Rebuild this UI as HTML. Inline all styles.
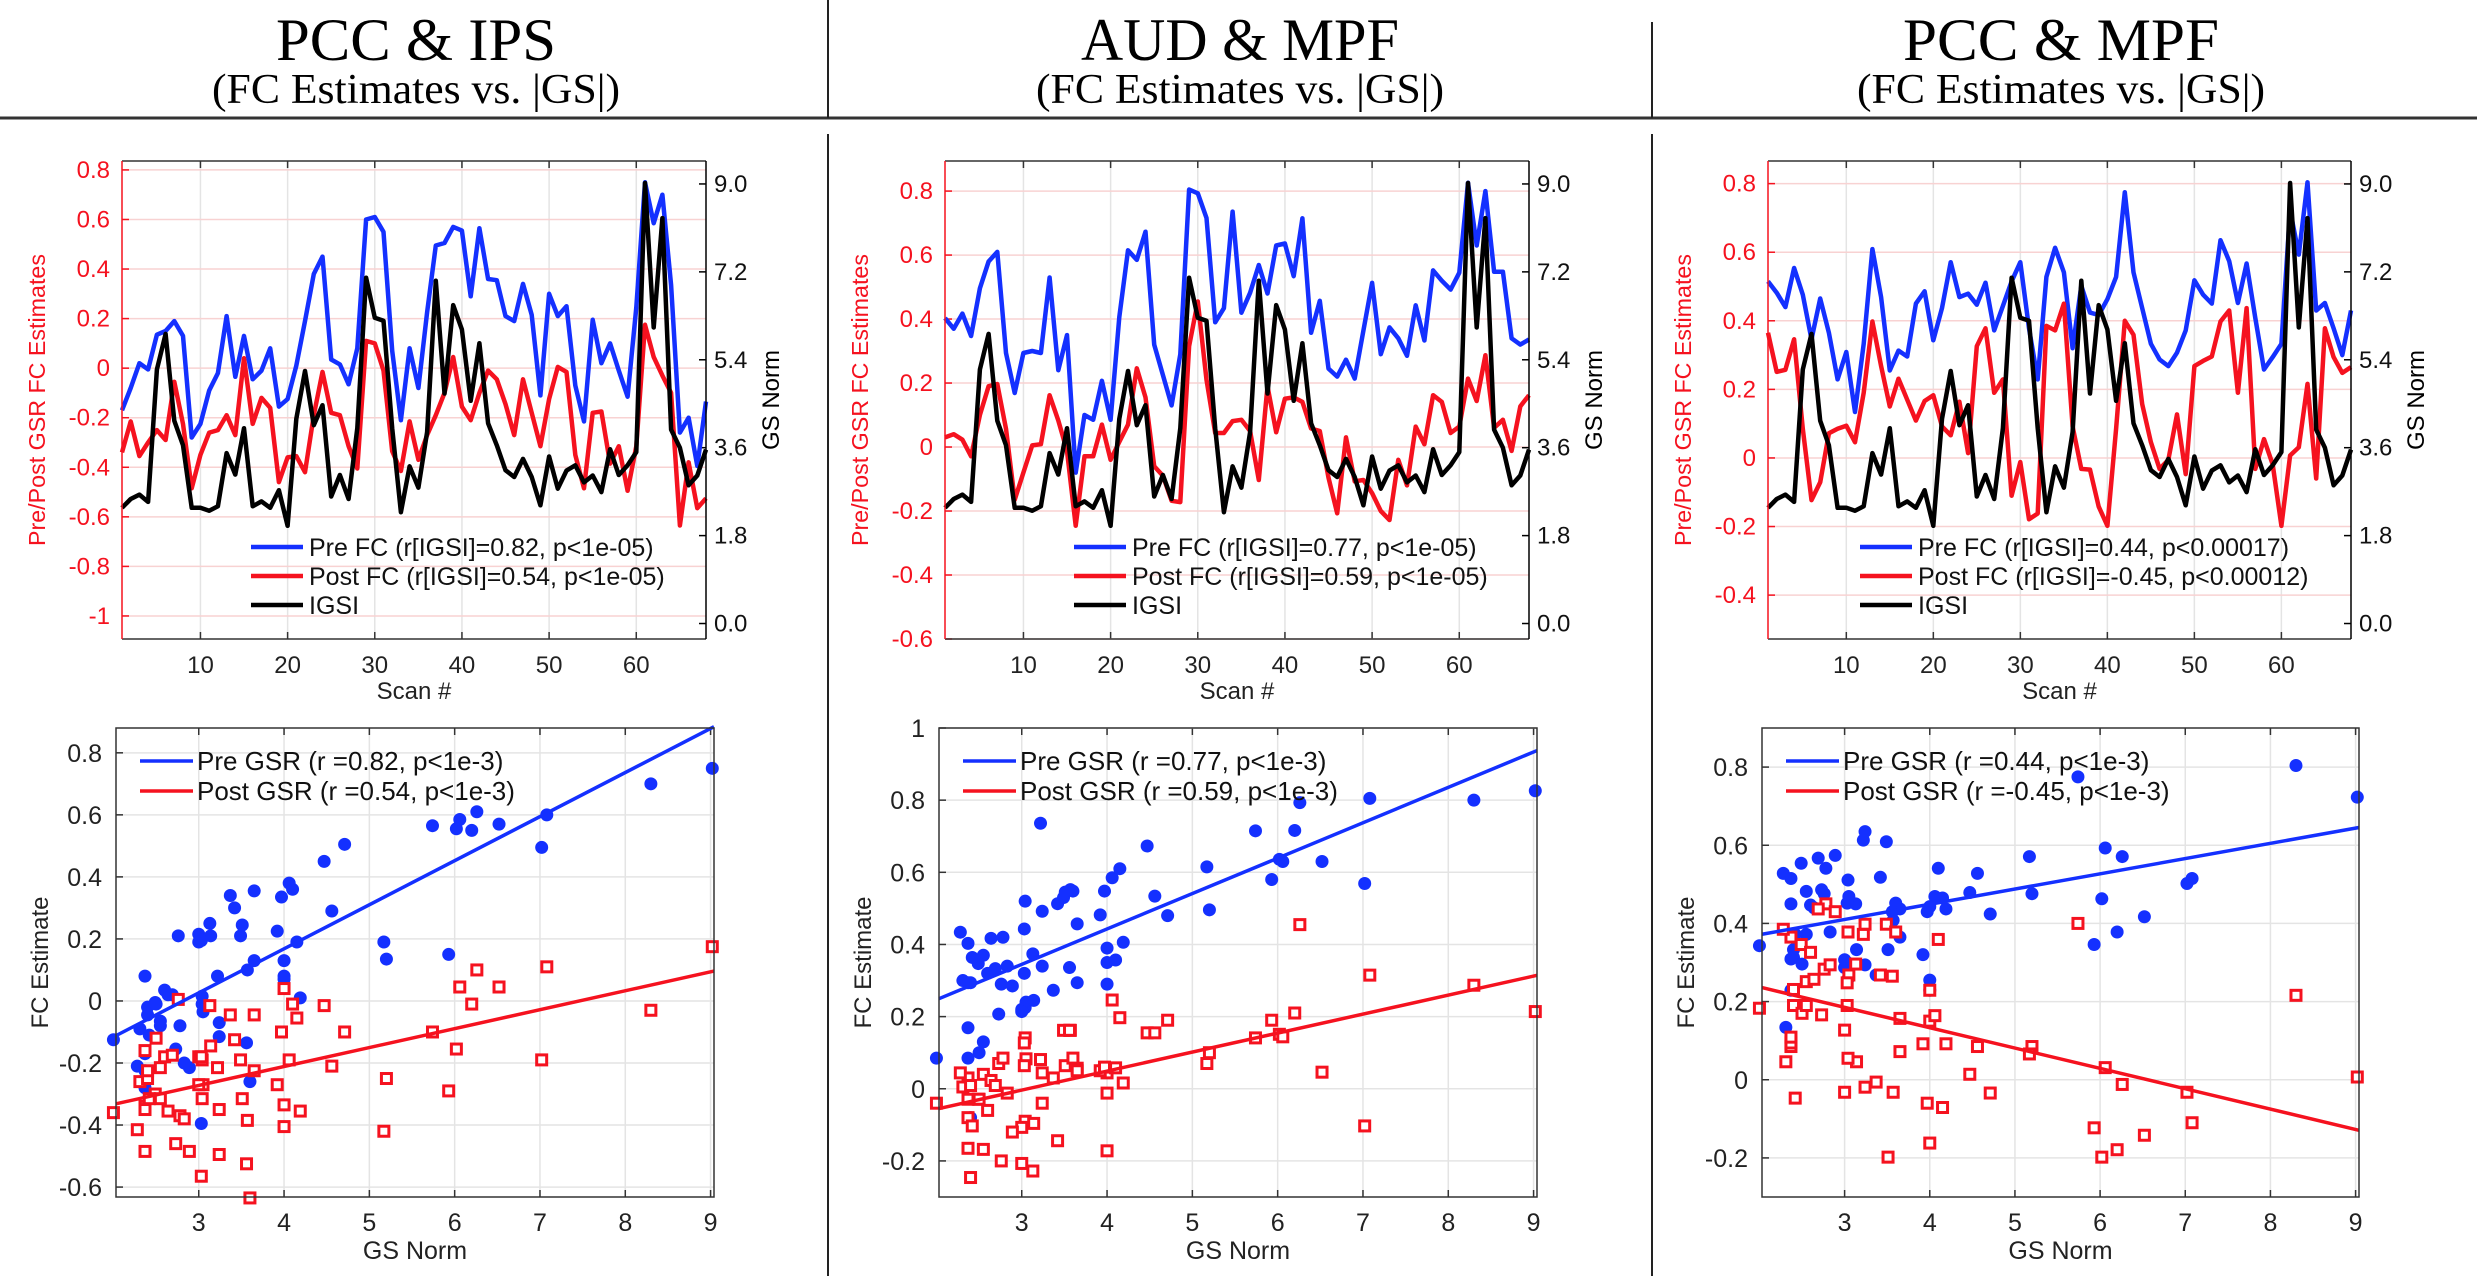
<!DOCTYPE html>
<html><head><meta charset="utf-8">
<style>
html,body{margin:0;padding:0;background:#fff;}
svg{display:block;font-family:"Liberation Sans",Arial,sans-serif;}
.ttl{font-family:"Liberation Serif","DejaVu Serif",serif;}
</style></head>
<body>
<svg id="fig" width="2477" height="1280" viewBox="0 0 2477 1280" xmlns="http://www.w3.org/2000/svg">
<rect x="0" y="0" width="2477" height="1280" fill="#fff"/>
<line x1="0" y1="118" x2="2477" y2="118" stroke="#333" stroke-width="3"/>
<line x1="828" y1="0" x2="828" y2="118" stroke="#222" stroke-width="2"/>
<line x1="828" y1="134" x2="828" y2="1276" stroke="#222" stroke-width="2"/>
<line x1="1652" y1="22" x2="1652" y2="118" stroke="#222" stroke-width="2"/>
<line x1="1652" y1="134" x2="1652" y2="1276" stroke="#222" stroke-width="2"/>
<g class="ttl">
<text x="416" y="60" font-size="60" text-anchor="middle" textLength="280" lengthAdjust="spacingAndGlyphs">PCC &amp; IPS</text>
<text x="416" y="103" font-size="42" text-anchor="middle" textLength="408" lengthAdjust="spacingAndGlyphs">(FC Estimates vs. |GS|)</text>
</g>
<g class="ttl">
<text x="1240" y="60" font-size="60" text-anchor="middle" textLength="318" lengthAdjust="spacingAndGlyphs">AUD &amp; MPF</text>
<text x="1240" y="103" font-size="42" text-anchor="middle" textLength="408" lengthAdjust="spacingAndGlyphs">(FC Estimates vs. |GS|)</text>
</g>
<g class="ttl">
<text x="2061" y="60" font-size="60" text-anchor="middle" textLength="316" lengthAdjust="spacingAndGlyphs">PCC &amp; MPF</text>
<text x="2061" y="103" font-size="42" text-anchor="middle" textLength="408" lengthAdjust="spacingAndGlyphs">(FC Estimates vs. |GS|)</text>
</g>
</svg>
<script>
const gsNorm=[2.37,2.55,2.64,2.49,5.2,5.93,4.15,3.65,2.37,2.37,2.31,2.4,3.49,3.05,4.0,2.4,2.5,2.37,2.73,2.0,4.19,5.17,4.06,4.47,2.6,3.04,2.55,4.0,7.08,6.26,6.2,4.0,2.28,3.22,2.78,3.92,7.02,4.71,6.52,6.02,4.56,5.74,4.1,3.65,3.14,3.0,3.37,3.0,2.42,3.42,2.76,3.13,3.24,2.89,3.03,2.69,3.57,3.04,3.24,3.51,9.02,6.06,8.3,3.97,3.6,2.83,3.03,3.56];
const pre1=[-0.17,-0.08,0.02,-0.005,0.135,0.15,0.19,0.13,-0.28,-0.225,-0.09,-0.02,0.21,-0.035,0.13,-0.045,-0.01,0.08,-0.155,-0.125,0.01,0.19,0.38,0.45,0.035,0.015,-0.065,0.08,0.6,0.61,0.55,0.07,-0.21,0.08,-0.08,0.225,0.495,0.505,0.57,0.555,0.29,0.565,0.36,0.355,0.21,0.19,0.34,0.215,-0.11,0.3,0.21,0.25,-0.07,-0.215,0.195,0.02,0.1,-0.01,-0.115,0.245,0.75,0.585,0.7,0.335,-0.26,-0.2,-0.395,-0.135];
const post1=[-0.34,-0.215,-0.355,-0.3,-0.25,-0.29,-0.055,-0.225,-0.485,-0.35,-0.26,-0.25,-0.19,-0.27,0.04,-0.225,-0.12,-0.16,-0.46,-0.36,-0.355,-0.42,-0.19,-0.015,-0.18,-0.19,-0.315,-0.405,0.11,0.1,-0.01,-0.335,-0.415,-0.215,-0.37,-0.27,-0.19,-0.1,0.045,-0.155,-0.21,-0.1,-0.01,-0.045,-0.145,-0.27,-0.045,-0.18,-0.315,-0.125,0.005,-0.015,-0.35,-0.485,-0.18,-0.175,-0.385,-0.315,-0.495,-0.315,0.175,0.045,-0.03,-0.1,-0.635,-0.38,-0.565,-0.525];
const pre2=[0.403,0.37,0.417,0.347,0.496,0.58,0.61,0.294,0.169,0.294,0.3,0.294,0.53,0.24,0.35,-0.08,0.1,0.085,0.207,0.085,0.406,0.615,0.585,0.673,0.32,0.225,0.13,0.29,0.805,0.793,0.716,0.39,0.434,0.736,0.42,0.482,0.569,0.48,0.63,0.636,0.534,0.715,0.357,0.457,0.245,0.22,0.273,0.214,0.364,0.513,0.29,0.374,0.34,0.285,0.443,0.333,0.552,0.52,0.492,0.545,0.826,0.63,0.8,0.548,0.548,0.34,0.32,0.336];
const post2=[0.03,0.04,0.023,-0.029,0.1,0.19,0.197,0.057,-0.165,-0.08,0.005,0.009,0.162,0.083,-0.012,-0.246,-0.029,-0.029,0.07,-0.04,0.016,0.07,0.246,0.155,-0.06,-0.09,-0.168,-0.172,0.315,0.455,0.21,0.044,0.044,0.081,0.085,0.05,-0.103,0.19,0.046,0.151,0.155,0.141,0.058,0.05,-0.096,-0.207,0.03,-0.107,-0.103,-0.144,-0.2,-0.228,-0.04,-0.12,0.064,0.009,0.162,0.141,0.044,0.064,0.214,0.144,0.287,0.06,0.085,-0.012,0.127,0.162];
const pre3=[0.515,0.482,0.44,0.554,0.476,0.346,0.465,0.365,0.229,0.309,0.134,0.333,0.609,0.469,0.255,0.313,0.296,0.45,0.486,0.343,0.437,0.571,0.469,0.479,0.447,0.511,0.372,0.443,0.515,0.571,0.378,0.229,0.528,0.613,0.541,0.32,0.502,0.424,0.417,0.463,0.528,0.775,0.541,0.437,0.333,0.287,0.268,0.307,0.372,0.518,0.476,0.45,0.635,0.574,0.452,0.567,0.408,0.258,0.294,0.333,0.723,0.593,0.804,0.43,0.452,0.378,0.3,0.43];
const post3=[0.365,0.251,0.257,0.346,0.085,-0.123,-0.071,0.072,0.085,0.094,0.046,0.19,0.398,0.268,0.15,0.231,0.17,0.109,0.166,0.183,0.092,0.066,0.164,0.014,0.326,0.378,0.19,0.229,-0.11,-0.012,-0.179,-0.162,0.385,0.372,0.45,0.092,-0.032,-0.034,-0.142,-0.198,0.085,0.4,0.359,0.157,0.046,-0.032,-0.006,0.127,-0.047,0.268,0.283,0.296,0.398,0.43,0.19,0.437,-0.032,0.055,-0.019,-0.198,0.007,0.031,0.216,-0.06,0.378,0.294,0.248,0.265];
const scanTicks=[10,20,30,40,50,60];
const gsTicks=[0,1.8,3.6,5.4,7.2,9.0];
const leftTicks1=[-1,-0.8,-0.6,-0.4,-0.2,0,0.2,0.4,0.6,0.8];
const leftTicks2=[-0.6,-0.4,-0.2,0,0.2,0.4,0.6,0.8];
const leftTicks3=[-0.4,-0.2,0,0.2,0.4,0.6,0.8];
const normTicks=[3,4,5,6,7,8,9];
const scatTicks1=[-0.6,-0.4,-0.2,0,0.2,0.4,0.6,0.8];
const scatTicks2=[-0.2,0,0.2,0.4,0.6,0.8,1];
const scatTicks3=[-0.2,0,0.2,0.4,0.6,0.8];
const legTop1=["Pre FC (r[IGSI]=0.82, p<1e-05)","Post FC (r[IGSI]=0.54, p<1e-05)","IGSI"];
const legTop2=["Pre FC (r[IGSI]=0.77, p<1e-05)","Post FC (r[IGSI]=0.59, p<1e-05)","IGSI"];
const legTop3=["Pre FC (r[IGSI]=0.44, p<0.00017)","Post FC (r[IGSI]=-0.45, p<0.00012)","IGSI"];
const legSc1=["Pre GSR (r =0.82, p<1e-3)","Post GSR (r =0.54, p<1e-3)"];
const legSc2=["Pre GSR (r =0.77, p<1e-3)","Post GSR (r =0.59, p<1e-3)"];
const legSc3=["Pre GSR (r =0.44, p<1e-3)","Post GSR (r =-0.45, p<1e-3)"];

const NS="http://www.w3.org/2000/svg";
const svg=document.getElementById('fig');
const BLUE="#1430ff",RED="#f5121f",BLACK="#000";
function mk(tag,attrs,parent){const e=document.createElementNS(NS,tag);for(const k in attrs)e.setAttribute(k,attrs[k]);(parent||svg).appendChild(e);return e;}
function lin(d0,d1,p0,p1){return v=>p0+(v-d0)/(d1-d0)*(p1-p0);}
function fmt(v){return (Math.round(v*10)/10).toString();}

const panels=[
 {pre:pre1,post:post1,tx0:122,tx1:706,ld:[-1.093,0.836],lt:leftTicks1,legT:legTop1,legX:251,sx0:116,sx1:714,sd:[-0.632,0.88],st:scatTicks1,legS:legSc1,slegX:140},
 {pre:pre2,post:post2,tx0:945,tx1:1529,ld:[-0.6,0.894],lt:leftTicks2,legT:legTop2,legX:1074,sx0:939,sx1:1537,sd:[-0.3,1.0],st:scatTicks2,legS:legSc2,slegX:963},
 {pre:pre3,post:post3,tx0:1768,tx1:2351,ld:[-0.528,0.866],lt:leftTicks3,legT:legTop3,legX:1860,sx0:1762,sx1:2359,sd:[-0.3,0.9],st:scatTicks3,legS:legSc3,slegX:1786}
];
const TY0=161,TY1=639,SY0=728,SY1=1197;

panels.forEach((p,pi)=>{
 const n=pi+1;
 const g=mk('g',{});
 
 
 const X=lin(1,68,p.tx0,p.tx1), YL=lin(p.ld[0],p.ld[1],TY1,TY0), YR=lin(-0.317,9.47,TY1,TY0);
 scanTicks.forEach(t=>{
  const l=mk('line',{x1:X(t),x2:X(t),y1:TY0,y2:TY1,stroke:'#e4e4e4','stroke-width':1.5},g);
  
  
  const tk=mk('line',{x1:X(t),x2:X(t),y1:TY1,y2:TY1-7,stroke:'#333','stroke-width':1.5},g);
  
  
  const tk2=mk('line',{x1:X(t),x2:X(t),y1:TY0,y2:TY0+7,stroke:'#333','stroke-width':1.5},g);
  
  
  const lb=mk('text',{x:X(t),y:TY1+34,'font-size':24,'text-anchor':'middle',fill:'#222'},g);
  lb.textContent=t;
  
  
 });
 p.lt.forEach(t=>{
  const l=mk('line',{x1:p.tx0,x2:p.tx1,y1:YL(t),y2:YL(t),stroke:'#f8d2d2','stroke-width':1.5},g);
  
  
  const tk=mk('line',{x1:p.tx0,x2:p.tx0+7,y1:YL(t),y2:YL(t),stroke:RED,'stroke-width':1.5},g);
  
  
  const lb=mk('text',{x:p.tx0-12,y:YL(t)+8,'font-size':24,'text-anchor':'end',fill:RED},g);
  lb.textContent=fmt(t);
  
  
 });
 gsTicks.forEach(t=>{
  const tk=mk('line',{x1:p.tx1,x2:p.tx1-7,y1:YR(t),y2:YR(t),stroke:'#000','stroke-width':1.5},g);
  
  
  const lb=mk('text',{x:p.tx1+8,y:YR(t)+8,'font-size':24,'text-anchor':'start',fill:'#111'},g);
  lb.textContent=t.toFixed(1);
  
  
 });
 const series=[[p.pre,BLUE,YL,'pre-fc-line'],[p.post,RED,YL,'post-fc-line'],[gsNorm,BLACK,YR,'gs-norm-line']];
 series.forEach(([arr,col,Y,name])=>{
  const d=arr.map((v,i)=>(i?'L':'M')+X(i+1).toFixed(1)+' '+Y(v).toFixed(1)).join(' ');
  const pth=mk('path',{d:d,fill:'none',stroke:col,'stroke-width':4.5,'stroke-linejoin':'round'},g);
  
  
 });
 const bt=mk('line',{x1:p.tx0,x2:p.tx1,y1:TY0,y2:TY0,stroke:'#333','stroke-width':1.5},g);
 
 
 const bb=mk('line',{x1:p.tx0,x2:p.tx1,y1:TY1,y2:TY1,stroke:'#333','stroke-width':1.5},g);
 
 
 const bl=mk('line',{x1:p.tx0,x2:p.tx0,y1:TY0,y2:TY1,stroke:RED,'stroke-width':1.5},g);
 
 
 const br=mk('line',{x1:p.tx1,x2:p.tx1,y1:TY0,y2:TY1,stroke:'#000','stroke-width':1.5},g);
 
 
 const xl=mk('text',{x:(p.tx0+p.tx1)/2,y:699,'font-size':24,'text-anchor':'middle',fill:'#222'},g);
 xl.textContent='Scan #';
 
 
 const ylx=p.tx0-77, yly=(TY0+TY1)/2;
 const yl=mk('text',{x:ylx,y:yly,'font-size':23,'text-anchor':'middle',fill:RED,transform:`rotate(-90 ${ylx} ${yly})`,textLength:292,lengthAdjust:'spacingAndGlyphs'},g);
 yl.textContent='Pre/Post GSR FC Estimates';
 
 
 const yrx=p.tx1+73;
 const yr=mk('text',{x:yrx,y:yly,'font-size':24,'text-anchor':'middle',fill:'#000',transform:`rotate(-90 ${yrx} ${yly})`},g);
 yr.textContent='GS Norm';
 
 
 const lg=mk('g',{},g);
 
 
 [BLUE,RED,BLACK].forEach((c,k)=>{
  const yy=547+k*29;
  const ll=mk('line',{x1:p.legX,x2:p.legX+52,y1:yy,y2:yy,stroke:c,'stroke-width':4.5},lg);
  
  
  const lt=mk('text',{x:p.legX+58,y:yy+9,'font-size':25,fill:'#111'},lg);
  lt.textContent=p.legT[k];
  
  
 });

 const s=mk('g',{});
 
 
 const SX=lin(2.03,9.04,p.sx0,p.sx1), SY=lin(p.sd[0],p.sd[1],SY1,SY0);
 normTicks.forEach(t=>{
  const l=mk('line',{x1:SX(t),x2:SX(t),y1:SY0,y2:SY1,stroke:'#e4e4e4','stroke-width':1.5},s);
  
  
  const tk=mk('line',{x1:SX(t),x2:SX(t),y1:SY1,y2:SY1-7,stroke:'#333','stroke-width':1.5},s);
  
  
  const tk2=mk('line',{x1:SX(t),x2:SX(t),y1:SY0,y2:SY0+7,stroke:'#333','stroke-width':1.5},s);
  
  
  const lb=mk('text',{x:SX(t),y:SY1+34,'font-size':25,'text-anchor':'middle',fill:'#222'},s);
  lb.textContent=t;
  
  
 });
 p.st.forEach(t=>{
  const l=mk('line',{x1:p.sx0,x2:p.sx1,y1:SY(t),y2:SY(t),stroke:'#e4e4e4','stroke-width':1.5},s);
  
  
  const tk=mk('line',{x1:p.sx0,x2:p.sx0+7,y1:SY(t),y2:SY(t),stroke:'#333','stroke-width':1.5},s);
  
  
  const lb=mk('text',{x:p.sx0-14,y:SY(t)+9,'font-size':25,'text-anchor':'end',fill:'#222'},s);
  lb.textContent=fmt(t);
  
  
 });
 gsNorm.forEach((gv,i)=>{
  const c=mk('circle',{cx:SX(gv),cy:SY(p.pre[i]),r:6.5,fill:BLUE},s);
  
  
 });
 gsNorm.forEach((gv,i)=>{
  const r=mk('rect',{x:SX(gv)-5,y:SY(p.post[i])-5,width:10,height:10,fill:'#fff',stroke:RED,'stroke-width':3},s);
  
  
 });
 [[p.pre,BLUE,'pre-gsr-fit-line'],[p.post,RED,'post-gsr-fit-line']].forEach(([arr,col,name])=>{
  const N=arr.length;let mx=0,my=0;for(let i=0;i<N;i++){mx+=gsNorm[i];my+=arr[i];}mx/=N;my/=N;
  let sxy=0,sxx=0;for(let i=0;i<N;i++){sxy+=(gsNorm[i]-mx)*(arr[i]-my);sxx+=(gsNorm[i]-mx)**2;}
  const b=sxy/sxx,a=my-b*mx;const xa=2.03,xb=9.04;
  const l=mk('line',{x1:SX(xa),y1:SY(a+b*xa),x2:SX(xb),y2:SY(a+b*xb),stroke:col,'stroke-width':3.5},s);
  
  
 });
 const bx=mk('rect',{x:p.sx0,y:SY0,width:p.sx1-p.sx0,height:SY1-SY0,fill:'none',stroke:'#333','stroke-width':1.5},s);
 
 
 const sxl=mk('text',{x:(p.sx0+p.sx1)/2,y:1259,'font-size':25,'text-anchor':'middle',fill:'#222'},s);
 sxl.textContent='GS Norm';
 
 
 const syx=p.sx0-68, syy=(SY0+SY1)/2;
 const syl=mk('text',{x:syx,y:syy,'font-size':24,'text-anchor':'middle',fill:'#222',transform:`rotate(-90 ${syx} ${syy})`},s);
 syl.textContent='FC Estimate';
 
 
 const sl=mk('g',{},s);
 
 
 [BLUE,RED].forEach((c,k)=>{
  const yy=761+k*30;
  const ll=mk('line',{x1:p.slegX,x2:p.slegX+53,y1:yy,y2:yy,stroke:c,'stroke-width':3.5},sl);
  
  
  const lt=mk('text',{x:p.slegX+57,y:yy+9,'font-size':26,fill:'#111'},sl);
  lt.textContent=p.legS[k];
  
  
 });
});
</script>
</body></html>
